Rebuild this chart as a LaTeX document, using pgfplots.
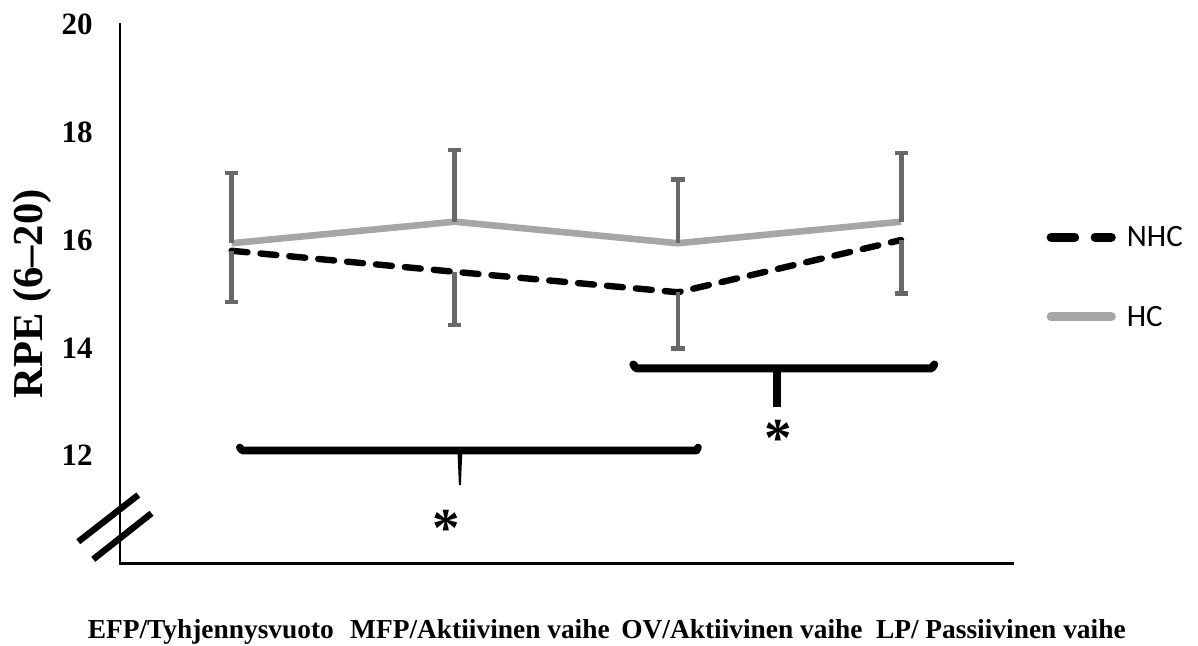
\documentclass[border=0pt]{standalone}
\usepackage{fontspec}
\setmainfont{Liberation Serif}
\newfontfamily\calibri{Carlito}
\usepackage{pgfplots}
\pgfplotsset{compat=1.18}
\definecolor{hcgray}{HTML}{A6A6A6}
\definecolor{errgray}{HTML}{686868}
\begin{document}
\begin{tikzpicture}
\begin{axis}[
 name=ax, at={(0,0)}, anchor=south west,
 scale only axis, width=446.35pt, height=269.4pt,
 xmin=-0.5, xmax=3.5, ymin=10, ymax=20,
 axis lines=left, axis line style={-, line width=1.25pt, black, line cap=rect},
 xtick=\empty, ytick={12,14,16,18,20},
 major tick length=0pt,
 /pgf/number format/assume math mode=true,
 yticklabel style={font=\fontsize{15.5}{18}\selectfont\bfseries, inner sep=0pt, xshift=-13.5pt},
 clip=false,
]
% HC: mean with upper SD
\addplot[hcgray, line width=3.3pt, line join=round,
  error bars/.cd, y dir=plus, y explicit,
  error bar style={errgray, line width=2.4pt, line cap=butt},
  error mark options={errgray, rotate=90, line width=2.2pt, mark size=3.3pt}]
  coordinates {(0,15.94) +- (0,1.30) (1,16.34) +- (0,1.33) (2,15.94) +- (0,1.18) (3,16.34) +- (0,1.28)};
% NHC: mean with lower SD
\addplot[black, line width=3.2pt, line cap=round, line join=round, dash pattern=on 8pt off 6.5pt,
  error bars/.cd, y dir=minus, y explicit,
  error bar style={solid, errgray, line width=2.4pt, line cap=butt},
  error mark options={solid, errgray, rotate=90, line width=2.2pt, mark size=3.3pt}]
  coordinates {(0,15.80) +- (0,0.95) (1,15.41) +- (0,0.99) (2,15.03) +- (0,1.04) (3,16.00) +- (0,0.99)};

% significance brackets
\draw[line width=3.8pt, line cap=round, line join=round]
  (axis cs:0.037,12.15) -- (axis cs:0.047,12.094) -- (axis cs:2.083,12.094) -- (axis cs:2.090,12.15);
\fill (axis cs:1.012,12.10) -- (axis cs:1.034,12.10) -- (axis cs:1.0275,11.453) -- (axis cs:1.0185,11.453) -- cycle;
\node[anchor=base, inner sep=0pt, font=\fontsize{27.5}{30}\selectfont\bfseries] at (axis cs:0.964,10.321) {*};

\draw[line width=4pt, line cap=round, line join=round]
  (axis cs:1.800,13.69) -- (axis cs:1.812,13.619) -- (axis cs:3.137,13.619) -- (axis cs:3.149,13.69);
\draw[line width=4pt] (axis cs:2.442,13.619) -- (axis cs:2.442,12.906);
\node[anchor=base, inner sep=0pt, font=\fontsize{27.5}{30}\selectfont\bfseries] at (axis cs:2.448,11.991) {*};

% axis break
\draw[line width=3.2pt] (axis cs:-0.687,10.401) -- (axis cs:-0.418,11.268);
\draw[line width=3.2pt] (axis cs:-0.620,10.074) -- (axis cs:-0.3587,10.928);

% y label
\node[rotate=90, font=\fontsize{21.3}{24}\selectfont\bfseries] at (axis cs:-0.894,15.0) {RPE (6–20)};

% category labels
\node[anchor=base, inner sep=0pt, font=\fontsize{13.7}{16}\selectfont\bfseries] at (axis cs:-0.093,8.602) {EFP/Tyhjennysvuoto};
\node[anchor=base, inner sep=0pt, font=\fontsize{13.7}{16}\selectfont\bfseries] at (axis cs:1.113,8.602) {MFP/Aktiivinen vaihe};
\node[anchor=base, inner sep=0pt, font=\fontsize{13.7}{16}\selectfont\bfseries] at (axis cs:2.287,8.602) {OV/Aktiivinen vaihe};
\node[anchor=base, inner sep=0pt, font=\fontsize{13.7}{16}\selectfont\bfseries] at (axis cs:3.447,8.602) {LP/ Passiivinen vaihe};

% legend
\draw[black, line width=4.5pt, line cap=round, dash pattern=on 11.8pt off 10.2pt] (axis cs:3.672,16.051) -- (axis cs:3.942,16.051);
\draw[hcgray, line width=4.5pt, line cap=round] (axis cs:3.672,14.577) -- (axis cs:3.942,14.577);
\node[anchor=base west, inner sep=0pt, font=\calibri\fontsize{15.5}{18}\selectfont] at (axis cs:4.010,15.876) {NHC};
\node[anchor=base west, inner sep=0pt, font=\calibri\fontsize{15.5}{18}\selectfont] at (axis cs:4.010,14.391) {HC};
\end{axis}
\pgfresetboundingbox
\path ([shift={(-60pt,-41.35pt)}]ax.south west) rectangle ([shift={(539pt,281.65pt)}]ax.south west);
\end{tikzpicture}
\end{document}
